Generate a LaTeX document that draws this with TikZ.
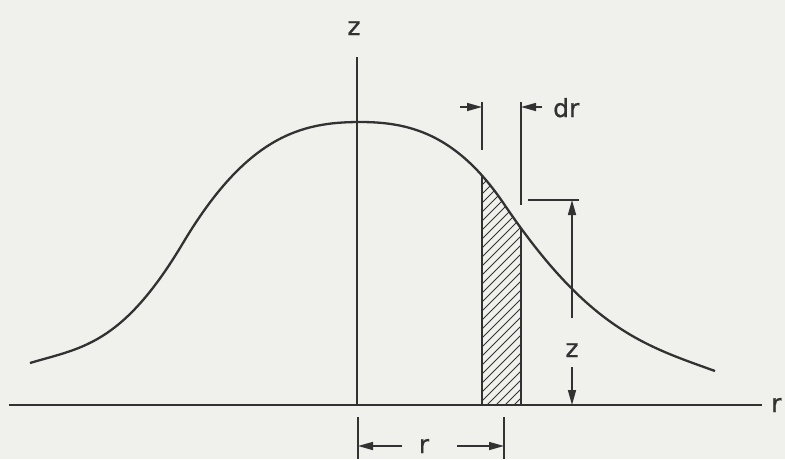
\documentclass[tikz,border=0pt]{standalone}
\usepackage{fontspec}
\newfontfamily\lblfont[FakeBold=0.8]{DejaVu Sans}
\usetikzlibrary{arrows.meta}
\definecolor{bg}{RGB}{240,240,236}
\definecolor{ink}{RGB}{50,50,50}
\def\curvepath{(30,363) .. controls (81,347.7) and (121.8,345.8) .. (183,243) .. controls (246.7,136.3) and (301,122) .. (360,122) .. controls (408,122) and (456,133) .. (504,204) .. controls (588.4,328.9) and (644.7,345.7) .. (715,371)}
\begin{document}
\begin{tikzpicture}[x=1pt,y=-1pt,
  main/.style={draw=ink, line width=2.3pt},
  axisline/.style={draw=ink, line width=1.8pt},
  dim/.style={draw=ink, line width=1.5pt},
  hatch/.style={draw=ink, line width=0.9pt},
  arr/.style={dim, -{Triangle[length=15pt,width=8pt]}},
  lbl/.style={text=ink, font=\fontsize{25}{30}\lblfont, inner sep=0pt}]
\fill[bg] (0,0) rectangle (785,459);
\useasboundingbox (0,0) rectangle (785,459);
% axes
\coordinate (xl) at (9,405);
\coordinate (xr) at (762,405);
\coordinate (zt) at (357,57);
\coordinate (o) at (357,405);
\draw[axisline] (xl) -- (xr);
\draw[axisline] (zt) -- (o);
\node[lbl, anchor=base] (zlab) at (354,35) {z};
\node[lbl, anchor=base west] (rlab) at (771,412) {r};
% hatched strip, clipped under the curve
\coordinate (s1b) at (482,405);
\coordinate (s2b) at (521,405);
\coordinate (s1t) at (482,150);
\coordinate (s2t) at (521,200);
\begin{scope}
\clip \curvepath -- (715,405) -- (30,405) -- cycle;
\draw[axisline] (s1b) -- (s1t);
\draw[axisline] (s2b) -- (s2t);
\clip (482,100) rectangle (521,405);
\foreach \c in {640,649,...,940} \draw[hatch] (\c-405,405) -- (\c-150,150);
\end{scope}
% curve
\draw[main] \curvepath;
% dr
\coordinate (d1a) at (482,102); \coordinate (d1b) at (482,150);
\coordinate (d2a) at (521,102); \coordinate (d2b) at (521,205);
\draw[dim] (d1a) -- (d1b);
\draw[dim] (d2a) -- (d2b);
\coordinate (a1s) at (460,107); \coordinate (a1e) at (482,107);
\coordinate (a2s) at (542,107); \coordinate (a2e) at (521,107);
\draw[arr] (a1s) -- (a1e);
\draw[arr] (a2s) -- (a2e);
\node[lbl, anchor=base west] (drlab) at (553,117) {dr};
% z dimension
\coordinate (h1) at (528,200); \coordinate (h2) at (579,200);
\draw[dim] (h1) -- (h2);
\coordinate (zu) at (572,318); \coordinate (zut) at (572,200);
\coordinate (zd) at (572,367); \coordinate (zdt) at (572,405);
\draw[arr] (zu) -- (zut);
\draw[arr] (zd) -- (zdt);
\node[lbl, anchor=base] (zdim) at (572,357) {z};
% r dimension
\coordinate (r1a) at (358,417); \coordinate (r1b) at (358,459);
\coordinate (r2a) at (504,417); \coordinate (r2b) at (504,459);
\draw[dim] (r1a) -- (r1b);
\draw[dim] (r2a) -- (r2b);
\coordinate (ra1) at (402,446); \coordinate (ra1e) at (358,446);
\coordinate (ra2) at (457,446); \coordinate (ra2e) at (504,446);
\draw[arr] (ra1) -- (ra1e);
\draw[arr] (ra2) -- (ra2e);
\node[lbl, anchor=base] (rdim) at (424,453) {r};
\end{tikzpicture}
\end{document}
